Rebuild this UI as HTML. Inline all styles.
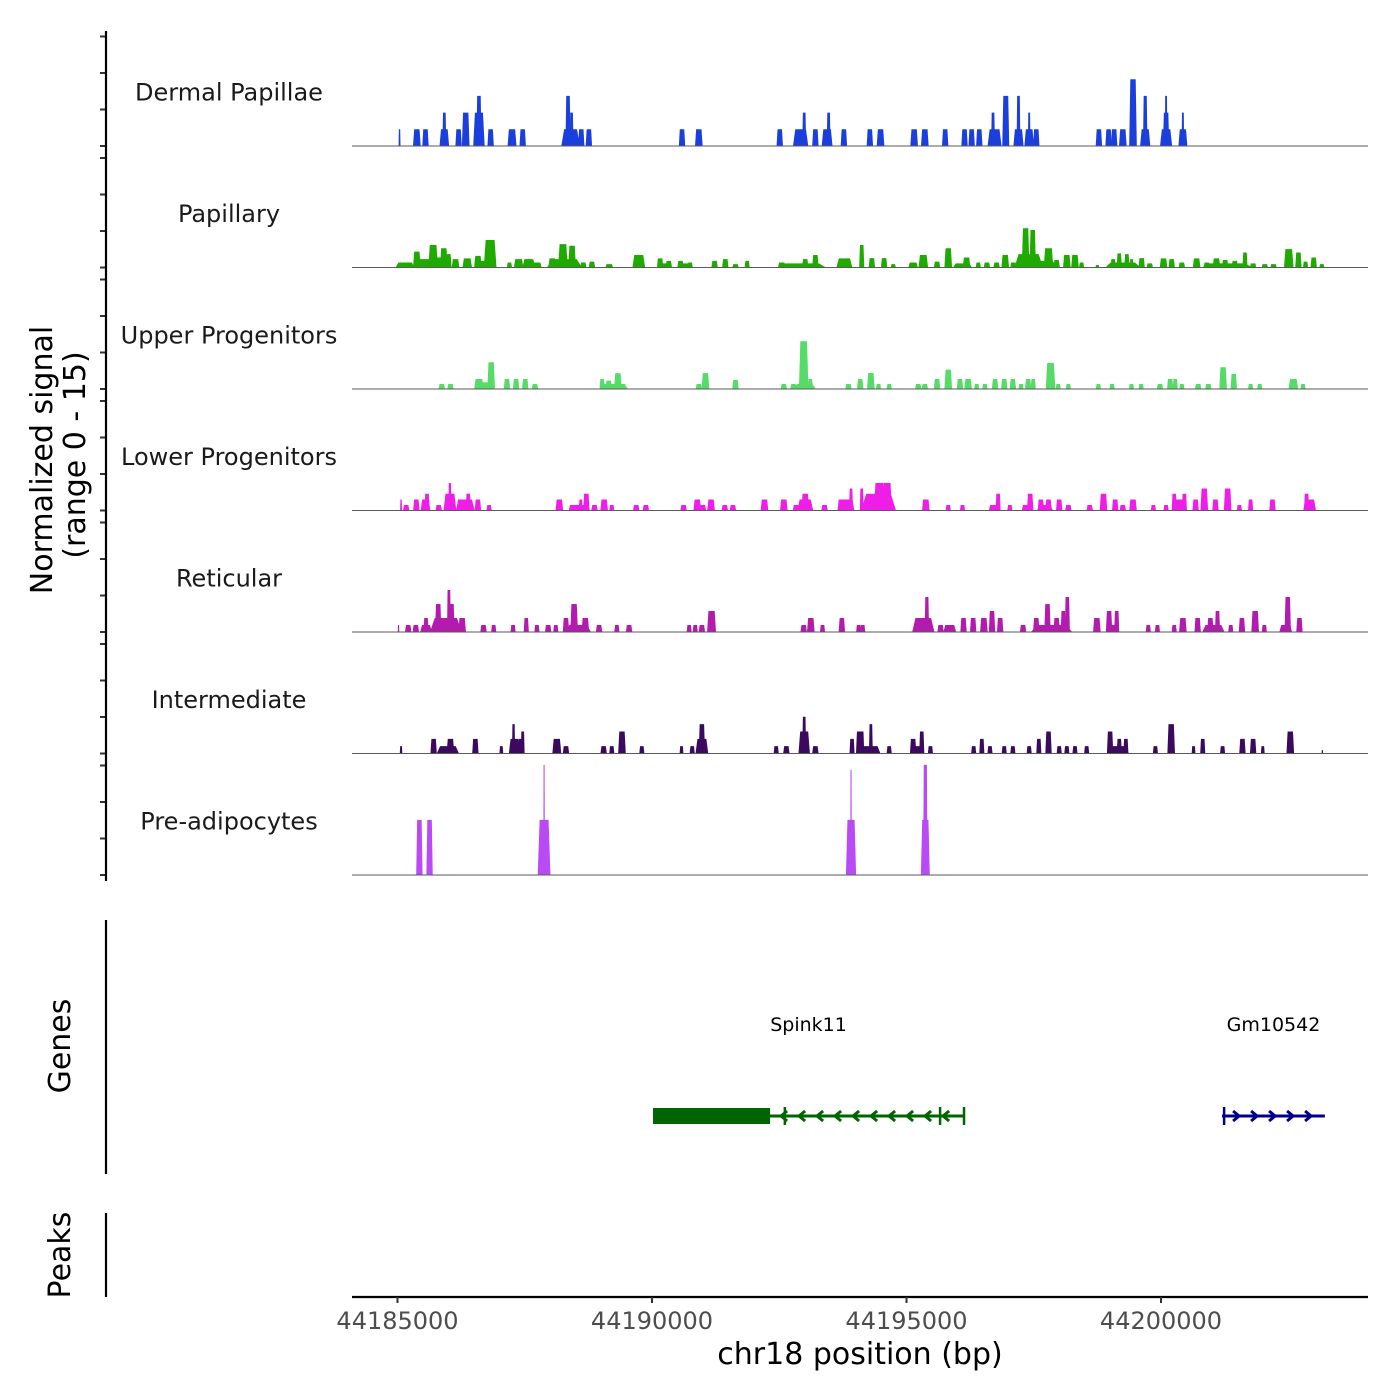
<!DOCTYPE html>
<html><head><meta charset="utf-8"><style>
html,body{margin:0;padding:0;background:#fff;}
svg{display:block;font-family:"DejaVu Sans","Liberation Sans",sans-serif;}
</style></head><body>
<svg id="chart" width="1400" height="1400" viewBox="0 0 1400 1400" xmlns="http://www.w3.org/2000/svg">
<rect width="1400" height="1400" fill="#fff"/>
<g id="tracks"></g>
<g id="axes">
<text transform="translate(52,460) rotate(-90)" text-anchor="middle" font-size="30" fill="#000">Normalized signal</text>
<text transform="translate(85,455) rotate(-90)" text-anchor="middle" font-size="30" fill="#000">(range 0 - 15)</text>
<text transform="translate(70,1046) rotate(-90)" text-anchor="middle" font-size="30" fill="#000">Genes</text>
<text transform="translate(70,1255) rotate(-90)" text-anchor="middle" font-size="30" fill="#000">Peaks</text>
<line x1="106" y1="920" x2="106" y2="1174" stroke="#000" stroke-width="2.2"/>
<line x1="106" y1="1213" x2="106" y2="1297" stroke="#000" stroke-width="2.2"/>
<line x1="352" y1="1297" x2="1368" y2="1297" stroke="#000" stroke-width="2.2"/>
<text x="860" y="1364" text-anchor="middle" font-size="30" fill="#000">chr18 position (bp)</text>
</g>
<g id="genes"></g>
</svg>
<script>
// region start (bp); positions below are kb offsets from START
const START = 44185000;
const trackNames = ["Dermal Papillae","Papillary","Upper Progenitors","Lower Progenitors","Reticular","Intermediate","Pre-adipocytes"];
const trackColors = ["#1b3fdc","#1faa00","#57db68","#ee1ee8","#b31aae","#3b0a5e","#b94af5"];
const xTicks = [0,5,10,15];
const xTickLabels = ["44185000","44190000","44195000","44200000"];
// peaks: [position kb, height, width kb]
const dermal = [[0.04,1,0.03],[0.38,1,0.12],[0.55,1,0.1],[0.92,1,0.15],[0.92,2,0.06],[1.20,1,0.1],[1.34,2,0.12],[1.60,2,0.18],[1.60,3,0.08],[1.83,1,0.1],[2.25,1,0.14],[2.46,1,0.1],[3.40,1,0.29],[3.35,3,0.08],[3.42,2,0.06],[3.61,1,0.1],[3.76,1,0.1],[5.59,1,0.1],[5.92,1,0.12],[7.51,1,0.1],[7.92,1,0.24],[7.99,2,0.06],[8.21,1,0.1],[8.44,1,0.17],[8.47,2,0.06],[8.77,1,0.1],[9.28,1,0.1],[9.49,1,0.12],[10.15,1,0.12],[10.36,1,0.12],[10.76,1,0.1],[11.14,1,0.1],[11.28,1,0.1],[11.43,1,0.1],[11.73,1,0.22],[11.70,2,0.06],[11.95,3,0.11],[12.20,1,0.16],[12.20,3,0.06],[12.41,1,0.15],[12.41,2,0.04],[12.55,1,0.1],[13.78,1,0.1],[13.97,1,0.1],[14.08,1,0.1],[14.25,1,0.12],[14.45,4,0.12],[14.69,1,0.16],[14.69,3,0.07],[15.10,1,0.19],[15.10,2,0.1],[15.10,3,0.04],[15.43,1,0.14],[15.43,2,0.04]];
const papillary = [[0.15,0.3,0.3],[0.38,0.95,0.12],[0.55,0.5,0.25],[0.70,1.35,0.15],[0.85,0.6,0.3],[0.91,1.15,0.12],[1.0,0.8,0.1],[1.14,0.5,0.12],[1.37,0.55,0.15],[1.58,0.7,0.12],[1.82,1.65,0.2],[1.70,0.4,0.2],[2.20,0.3,0.08],[2.38,0.5,0.15],[2.58,0.5,0.2],[2.74,0.3,0.15],[3.04,0.55,0.12],[3.28,0.5,0.55],[3.25,1.4,0.15],[3.43,1.3,0.12],[3.65,0.3,0.1],[3.82,0.35,0.1],[4.16,0.2,0.12],[4.74,0.75,0.2],[5.16,0.55,0.1],[5.25,0.25,0.2],[5.33,0.4,0.1],[5.56,0.4,0.1],[5.65,0.25,0.15],[5.75,0.3,0.08],[6.23,0.4,0.1],[6.44,0.5,0.1],[6.64,0.2,0.1],[6.87,0.4,0.08],[7.55,0.3,0.12],[7.95,0.25,0.75],[8.01,0.5,0.1],[8.21,0.75,0.1],[8.78,0.55,0.25],[9.12,1.35,0.08],[9.32,0.56,0.1],[9.56,0.56,0.1],[9.74,0.2,0.08],[10.13,0.3,0.15],[10.33,0.75,0.15],[10.60,0.35,0.1],[10.82,1.15,0.12],[11.18,0.6,0.12],[11.10,0.25,0.3],[11.41,0.3,0.08],[11.58,0.3,0.1],[11.77,0.3,0.1],[11.94,0.75,0.12],[12.10,0.3,0.1],[12.40,0.8,0.45],[12.34,2.35,0.12],[12.48,2.25,0.1],[12.79,1.15,0.15],[12.70,0.4,0.4],[12.95,0.45,0.1],[13.15,0.75,0.12],[13.31,0.75,0.12],[13.44,0.3,0.08],[13.75,0.15,0.06],[14.25,0.3,0.55],[14.06,0.5,0.08],[14.18,0.85,0.08],[14.33,0.8,0.08],[14.42,0.5,0.06],[14.62,0.56,0.1],[14.78,0.25,0.1],[15.05,0.55,0.12],[15.21,0.5,0.1],[15.41,0.3,0.1],[15.70,0.55,0.12],[15.90,0.3,0.1],[16.09,0.55,0.12],[16.26,0.45,0.1],[16.45,0.4,0.1],[16.3,0.25,0.8],[16.65,0.9,0.08],[16.81,0.25,0.1],[17.04,0.2,0.1],[17.21,0.2,0.1],[17.51,1.1,0.15],[17.70,0.9,0.1],[17.84,0.35,0.08],[18.0,0.6,0.1],[18.16,0.2,0.08]];
const upper = [[0.87,0.3,0.1],[1.04,0.3,0.1],[1.60,0.6,0.15],[1.72,0.4,0.2],[1.84,1.6,0.12],[2.15,0.6,0.1],[2.33,0.6,0.1],[2.51,0.6,0.1],[2.70,0.3,0.1],[4.02,0.6,0.08],[4.15,0.5,0.1],[4.25,0.3,0.45],[4.33,0.95,0.12],[4.44,0.3,0.08],[5.92,0.3,0.1],[6.05,0.95,0.12],[6.64,0.55,0.1],[7.59,0.3,0.1],[7.78,0.3,0.1],[7.98,2.86,0.15],[8.11,0.6,0.08],[8.0,0.3,0.35],[8.86,0.3,0.1],[9.09,0.6,0.1],[9.30,0.96,0.12],[9.45,0.3,0.08],[9.66,0.3,0.08],[10.23,0.3,0.1],[10.36,0.3,0.1],[10.60,0.6,0.1],[10.82,1.16,0.12],[11.05,0.6,0.1],[11.21,0.6,0.12],[11.38,0.3,0.08],[11.54,0.3,0.08],[11.74,0.6,0.1],[11.92,0.6,0.1],[12.09,0.6,0.1],[12.25,0.3,0.08],[12.39,0.6,0.1],[12.49,0.6,0.08],[12.83,1.56,0.15],[12.98,0.3,0.08],[13.18,0.3,0.08],[13.77,0.3,0.08],[14.04,0.3,0.08],[14.42,0.3,0.08],[14.61,0.3,0.08],[14.98,0.3,0.1],[15.18,0.6,0.1],[15.28,0.6,0.08],[15.41,0.3,0.08],[15.73,0.3,0.1],[15.93,0.3,0.1],[16.22,1.3,0.12],[16.43,0.9,0.1],[16.76,0.3,0.08],[16.94,0.3,0.08],[17.60,0.6,0.15],[17.79,0.3,0.08]];
const lower = [[0.07,0.66,0.03],[0.17,0.33,0.1],[0.37,0.66,0.1],[0.58,1.0,0.08],[0.55,0.66,0.15],[0.81,0.33,0.1],[1.03,1.65,0.05],[1.03,1.0,0.2],[1.33,0.66,0.3],[1.23,0.66,0.1],[1.39,1.0,0.08],[1.58,0.66,0.1],[1.80,0.33,0.08],[3.18,0.66,0.12],[3.55,0.33,0.3],[3.43,0.33,0.1],[3.60,0.66,0.06],[3.71,1.0,0.1],[3.87,0.33,0.1],[4.06,0.66,0.12],[4.21,0.33,0.08],[4.69,0.33,0.1],[4.88,0.33,0.1],[5.62,0.33,0.1],[5.89,0.66,0.12],[6.0,0.33,0.1],[6.16,0.66,0.12],[6.43,0.33,0.1],[6.59,0.33,0.1],[7.21,0.66,0.12],[7.59,0.66,0.12],[7.83,0.33,0.1],[8.01,1.0,0.12],[8.01,0.66,0.25],[8.39,0.33,0.1],[8.72,0.66,0.12],[8.91,1.32,0.06],[8.85,0.66,0.2],[9.12,1.32,0.06],[9.47,1.65,0.18],[9.62,1.65,0.15],[9.45,1.0,0.55],[10.38,0.66,0.12],[10.82,0.33,0.08],[11.10,0.33,0.08],[11.71,0.33,0.15],[11.80,1.0,0.08],[12.03,0.33,0.08],[12.33,0.33,0.1],[12.43,1.0,0.1],[12.64,0.66,0.1],[12.79,0.66,0.1],[12.72,0.33,0.25],[13.0,0.66,0.1],[13.18,0.33,0.1],[13.60,0.33,0.1],[13.87,1.0,0.12],[14.10,0.66,0.1],[14.25,0.33,0.1],[14.45,0.66,0.12],[14.85,0.33,0.08],[15.10,0.33,0.08],[15.26,1.0,0.08],[15.36,0.66,0.2],[15.46,1.0,0.08],[15.68,0.66,0.1],[15.85,1.32,0.12],[16.07,0.66,0.1],[16.31,1.32,0.12],[16.54,0.33,0.08],[16.76,0.66,0.08],[17.19,0.66,0.1],[17.86,1.0,0.08],[17.92,0.66,0.2]];
const reticular = [[0.02,0.42,0.02],[0.21,0.42,0.1],[0.36,0.42,0.1],[0.56,0.84,0.08],[0.56,0.42,0.18],[0.80,1.68,0.1],[1.01,2.52,0.06],[1.07,1.68,0.08],[0.95,0.84,0.5],[1.27,0.84,0.12],[1.69,0.42,0.1],[1.89,0.42,0.08],[2.27,0.42,0.08],[2.53,0.84,0.08],[2.74,0.42,0.08],[2.96,0.42,0.1],[3.11,0.42,0.08],[3.31,0.84,0.1],[3.47,1.68,0.12],[3.69,0.84,0.12],[3.55,0.42,0.4],[3.96,0.42,0.1],[4.31,0.42,0.08],[4.55,0.42,0.1],[5.73,0.42,0.08],[5.85,0.42,0.08],[5.98,0.42,0.1],[6.17,1.26,0.14],[7.98,0.42,0.1],[8.12,0.84,0.12],[8.35,0.42,0.08],[8.73,0.84,0.1],[9.06,0.42,0.08],[9.14,0.42,0.08],[10.23,0.84,0.12],[10.40,2.1,0.07],[10.33,0.84,0.35],[10.67,0.42,0.1],[10.85,0.42,0.2],[11.12,0.84,0.1],[11.31,0.84,0.1],[11.52,0.84,0.12],[11.68,1.26,0.1],[11.84,0.84,0.1],[12.29,0.42,0.1],[12.55,0.84,0.1],[12.77,1.68,0.1],[12.95,0.84,0.1],[13.08,1.26,0.08],[13.16,2.1,0.08],[12.85,0.42,0.65],[13.74,0.84,0.12],[13.98,1.26,0.1],[14.13,1.26,0.08],[14.05,0.42,0.2],[14.75,0.42,0.08],[14.93,0.42,0.08],[15.26,0.42,0.08],[15.43,0.84,0.12],[15.72,0.84,0.1],[15.97,0.84,0.1],[16.11,1.26,0.08],[16.03,0.42,0.35],[16.37,0.42,0.08],[16.59,0.84,0.1],[16.85,1.26,0.12],[17.03,0.42,0.08],[17.49,2.1,0.1],[17.45,0.42,0.2],[17.72,0.84,0.1]];
const intermediate = [[0.07,0.44,0.04],[0.71,0.88,0.1],[0.99,0.44,0.35],[1.04,0.88,0.12],[1.53,0.88,0.1],[2.04,0.44,0.06],[2.28,1.76,0.05],[2.30,0.88,0.18],[2.46,1.32,0.06],[2.43,0.88,0.1],[3.13,0.88,0.14],[3.31,0.44,0.1],[4.05,0.44,0.1],[4.21,0.44,0.08],[4.41,1.32,0.12],[4.80,0.44,0.08],[5.58,0.44,0.06],[5.79,0.44,0.08],[5.98,1.76,0.1],[5.98,0.88,0.2],[7.44,0.44,0.08],[7.64,0.44,0.1],[7.99,2.2,0.06],[7.99,1.32,0.18],[8.21,0.44,0.1],[8.93,0.88,0.08],[9.07,1.32,0.1],[9.12,1.32,0.08],[9.30,1.76,0.06],[9.30,0.44,0.3],[9.66,0.44,0.08],[10.13,0.88,0.1],[10.30,1.32,0.08],[10.22,0.44,0.2],[10.47,0.44,0.08],[11.32,0.44,0.08],[11.48,0.88,0.08],[11.64,0.44,0.08],[11.92,0.44,0.08],[12.09,0.44,0.08],[12.41,0.44,0.08],[12.60,0.88,0.08],[12.79,1.32,0.1],[13.00,0.44,0.08],[13.15,0.44,0.08],[13.31,0.44,0.08],[13.54,0.44,0.08],[14.00,1.32,0.1],[14.18,0.88,0.08],[14.31,0.88,0.08],[14.15,0.44,0.35],[14.89,0.44,0.08],[15.20,1.76,0.12],[15.64,0.44,0.06],[15.82,0.88,0.08],[16.21,0.44,0.08],[16.60,0.88,0.1],[16.81,0.88,0.1],[17.00,0.44,0.06],[17.54,1.32,0.12],[18.17,0.2,0.02]];
const preadipo = [[0.43,3.3,0.1],[0.63,3.3,0.1],[2.88,3.3,0.2],[2.88,6.6,0.02],[8.91,3.3,0.16],[8.91,6.3,0.02],[10.37,3.3,0.14],[10.37,6.6,0.07]];
const trackData = [dermal,papillary,upper,lower,reticular,intermediate,preadipo];
// genes
const geneNames = ["Spink11","Gm10542"];
const geneStarts = [5.02,16.2];
const geneEnds = [11.13,18.22];
const geneThickStart = [5.02,16.2];
const geneThickEnd = [7.32,16.2];
const geneStrands = [-1,1];
const geneColors = ["#006400","#00008b"];
const exonMarks = [[7.61,10.66,11.13],[16.24]];

const NS = "http://www.w3.org/2000/svg";
const X0 = 397.5, PXKB = 50.9, XL = 352, XR = 1368;
const TRACK_TOP = 24.5, TRACK_H = 121.5, YMAX = 7.28;
function xs(kb){ return X0 + kb*PXKB; }
function ys(i, v){ return TRACK_TOP + (i+1)*TRACK_H - v*TRACK_H/YMAX; }
function mk(tag, attrs, parent){ const e=document.createElementNS(NS,tag); for(const k in attrs) e.setAttribute(k,attrs[k]); parent.appendChild(e); return e; }

const tracks = document.getElementById('tracks');
const axes = document.getElementById('axes');
trackData.forEach((peaks, i) => {
  const g = mk('g', {}, tracks);
  
  
  const base = ys(i, 0);
  peaks.forEach(p => {
    const c = xs(p[0]), w = Math.max(1.5, p[2]*PXKB*1.25), tw = Math.max(1, w*0.7), top = ys(i, p[1]);
    const poly = mk('polygon', {points: `${c-w/2},${base} ${c-tw/2},${top} ${c+tw/2},${top} ${c+w/2},${base}`, fill: trackColors[i]}, g);
    
    
  });
  const bl = mk('line', {x1: XL, x2: XR, y1: base, y2: base, stroke: '#5a5a5a', 'stroke-width': 1}, g);
  
  
  const t = mk('text', {x: 229, y: TRACK_TOP + i*TRACK_H + 76, 'text-anchor': 'middle', 'font-size': 24, fill: '#1a1a1a'}, g);
  t.textContent = trackNames[i];
  
  
  for (let k = 0; k < 4; k++) {
    const y = base - k*36.5;
    const tk = mk('line', {x1: 100, x2: 106, y1: y, y2: y, stroke: '#333', 'stroke-width': 2}, axes);
    
    
  }
});
const yl = mk('line', {x1: 106, x2: 106, y1: 31, y2: 881, stroke: '#000', 'stroke-width': 2.2}, axes);



xTicks.forEach((kb, j) => {
  const x = xs(kb);
  const tk = mk('line', {x1: x, x2: x, y1: 1297, y2: 1303, stroke: '#333', 'stroke-width': 2}, axes);
  
  
  const lb = mk('text', {x: x, y: 1329, 'text-anchor': 'middle', 'font-size': 24, fill: '#4d4d4d'}, axes);
  lb.textContent = xTickLabels[j];
  
  
});

const genes = document.getElementById('genes');
const GY = 1116;
geneNames.forEach((name, i) => {
  const g = mk('g', {}, genes);
  
  
  const col = geneColors[i], x1 = xs(geneStarts[i]), x2 = xs(geneEnds[i]);
  mk('line', {x1: x1, x2: x2, y1: GY, y2: GY, stroke: col, 'stroke-width': 3}, g);
  if (geneThickEnd[i] > geneThickStart[i]) {
    mk('rect', {x: xs(geneThickStart[i]), y: GY-8, width: xs(geneThickEnd[i]) - xs(geneThickStart[i]), height: 16, fill: col}, g);
  }
  exonMarks[i].forEach(kb => { const x = xs(kb); mk('line', {x1: x, x2: x, y1: GY-9, y2: GY+9, stroke: col, 'stroke-width': 2.5}, g); });
  const ts = geneThickEnd[i] > geneThickStart[i] ? xs(geneThickEnd[i]) + 14 : x1 + 14;
  for (let x = ts; x < x2 - 4; x += 18) {
    const d = geneStrands[i] < 0 ? `M${x+3},${GY-5} L${x-3},${GY} L${x+3},${GY+5}` : `M${x-3},${GY-5} L${x+3},${GY} L${x-3},${GY+5}`;
    mk('path', {d: d, stroke: col, 'stroke-width': 3, fill: 'none'}, g);
  }
  const lb = mk('text', {x: (x1+x2)/2, y: 1031, 'text-anchor': 'middle', 'font-size': 19, fill: '#000'}, g);
  lb.textContent = name;
  
  
});
</script>
</body></html>
